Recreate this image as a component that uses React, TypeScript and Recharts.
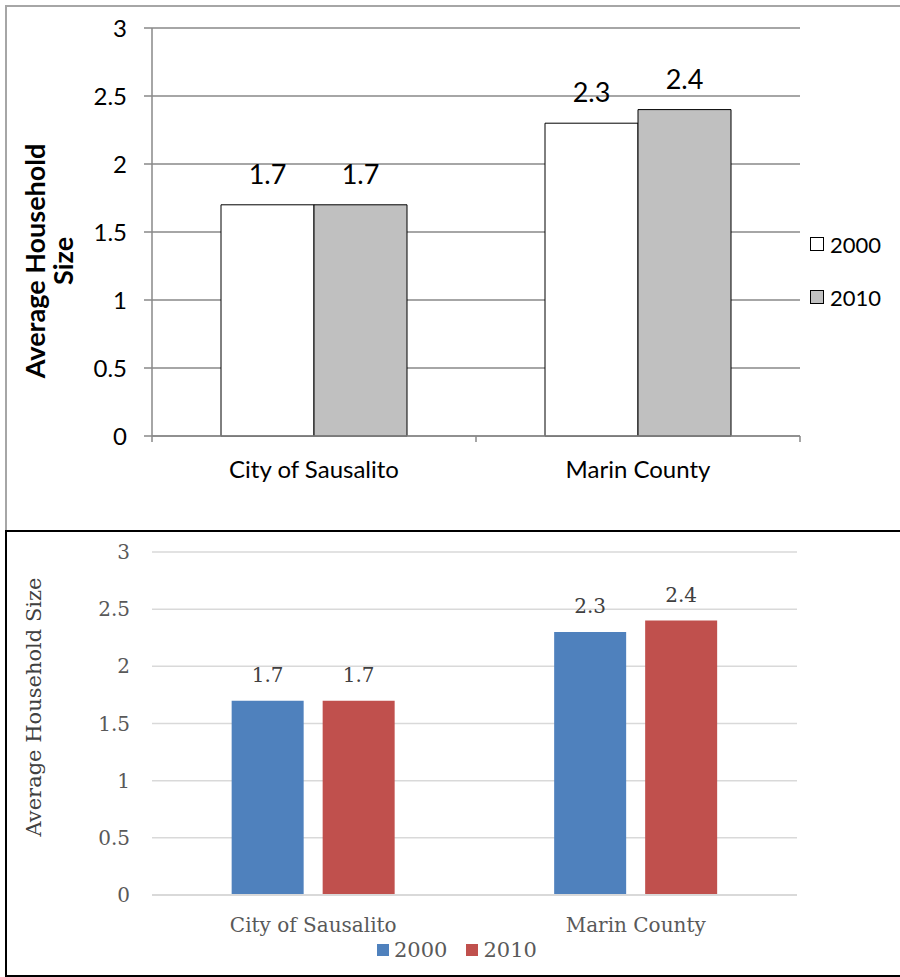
import React from 'react';
import {
  BarChart,
  Bar,
  XAxis,
  YAxis,
  CartesianGrid,
  Legend,
  LabelList,
} from 'recharts';

// Chart data
const categories = ['City of Sausalito', 'Marin County'];
const size2000 = [1.7, 2.3];
const size2010 = [1.7, 2.4];
const yTicks = [0, 0.5, 1, 1.5, 2, 2.5, 3];
const seriesNames = ['2000', '2010'];

const data = categories.map((name, i) => ({
  name,
  y2000: size2000[i],
  y2010: size2010[i],
}));

const TOP_FONT = 'Lato, "Open Sans", sans-serif';
const BOTTOM_FONT = '"DejaVu Serif", "Liberation Serif", serif';

// top chart plot width (900 - 152 left - 100 right)
const TOP_PLOT_W = 648;
const topHalfBand = TOP_PLOT_W / categories.length / 2;

const TopXTick = ({ x, y, payload, index }: any) => (
  <g>
    <line x1={x - topHalfBand} y1={y} x2={x - topHalfBand} y2={y + 6} stroke="#888" strokeWidth={1.5} />
    {index === categories.length - 1 && (
      <line x1={x + topHalfBand} y1={y} x2={x + topHalfBand} y2={y + 6} stroke="#888" strokeWidth={1.5} />
    )}
    <text x={x} y={y + 42} textAnchor="middle" fontSize={24} fontFamily={TOP_FONT} fill="#000">
      {payload.value}
    </text>
  </g>
);

const BottomXTick = ({ x, y, payload }: any) => (
  <text x={x} y={y + 37} textAnchor="middle" fontSize={20} fontFamily={BOTTOM_FONT} fill="#595959">
    {payload.value}
  </text>
);

const TopYLabel = () => (
  <text
    transform="translate(45, 261) rotate(-90)"
    textAnchor="middle"
    fontSize={27}
    fontWeight={700}
    fontFamily={TOP_FONT}
    fill="#000"
  >
    <tspan x={0} dy={0}>Average Household</tspan>
    <tspan x={0} dy={28}>Size</tspan>
  </text>
);

const BottomYLabel = () => (
  <text
    transform="translate(41, 176) rotate(-90)"
    textAnchor="middle"
    fontSize={21}
    fontFamily={BOTTOM_FONT}
    fill="#404040"
  >
    Average Household Size
  </text>
);

const TopLegend = () => (
  <div style={{ fontFamily: TOP_FONT, fontSize: 22, color: '#000' }}>
    {seriesNames.map((s, i) => (
      <div key={s} style={{ display: 'flex', alignItems: 'center', height: 26, marginBottom: i === 0 ? 27 : 0 }}>
        <span
          style={{
            display: 'inline-block',
            width: 12,
            height: 12,
            border: '1px solid #000',
            background: i === 0 ? '#fff' : '#c0c0c0',
            marginRight: 6,
          }}
        />
        {s}
      </div>
    ))}
  </div>
);

const BottomLegend = () => (
  <div style={{ fontFamily: BOTTOM_FONT, fontSize: 21, color: '#595959', display: 'flex', alignItems: 'center' }}>
    {seriesNames.map((s, i) => (
      <div key={s} style={{ display: 'flex', alignItems: 'center', marginRight: i === 0 ? 19 : 0 }}>
        <span
          style={{
            display: 'inline-block',
            width: 12,
            height: 12,
            background: i === 0 ? '#4f81bd' : '#c0504d',
            marginRight: 5,
          }}
        />
        {s}
      </div>
    ))}
  </div>
);

export default function App() {
  return (
    <div style={{ position: 'absolute', left: 0, top: 0, width: 900, height: 977, background: '#fff', overflow: 'hidden' }}>
      <div
        style={{
          position: 'absolute',
          left: 5,
          top: 5,
          width: 920,
          height: 540,
          borderLeft: '2px solid #a6a6a6',
          borderTop: '2px solid #a6a6a6',
        }}
      />
      <div style={{ position: 'absolute', left: 0, top: 0 }}>
        <BarChart
          width={900}
          height={531}
          data={data}
          margin={{ top: 28, right: 100, left: 52, bottom: 55 }}
          barCategoryGap="21.3%"
          barGap={0}
        >
          <CartesianGrid vertical={false} stroke="#888" strokeWidth={1.5} />
          <XAxis
            dataKey="name"
            height={40}
            axisLine={{ stroke: '#888', strokeWidth: 1.5 }}
            tickLine={false}
            tickSize={0}
            tickMargin={0}
            tick={<TopXTick />}
            interval={0}
          />
          <YAxis
            width={100}
            domain={[0, 3]}
            ticks={yTicks}
            axisLine={{ stroke: '#888', strokeWidth: 1.5 }}
            tickLine={{ stroke: '#888', strokeWidth: 1.5 }}
            tickSize={8}
            tickMargin={17}
            tick={{ fontSize: 24, fontFamily: TOP_FONT, fill: '#000' }}
            label={<TopYLabel />}
          />
          <Legend
            layout="horizontal"
            verticalAlign="middle"
            content={<TopLegend />}
            wrapperStyle={{ top: 231, left: 810, width: 90 }}
          />
          <Bar dataKey="y2000" name="2000" fill="#fff" stroke="#000" strokeWidth={1} isAnimationActive={false}>
            <LabelList dataKey="y2000" position="top" offset={21} fontSize={27} fontFamily={TOP_FONT} fill="#000" />
          </Bar>
          <Bar dataKey="y2010" name="2010" fill="#c0c0c0" stroke="#000" strokeWidth={1} isAnimationActive={false}>
            <LabelList dataKey="y2010" position="top" offset={21} fontSize={27} fontFamily={TOP_FONT} fill="#000" />
          </Bar>
        </BarChart>
      </div>

      <div
        style={{
          position: 'absolute',
          left: 5,
          top: 530,
          width: 920,
          height: 443,
          border: '2px solid #000',
        }}
      />
      <div style={{ position: 'absolute', left: 0, top: 531 }}>
        <BarChart
          width={900}
          height={446}
          data={data}
          margin={{ top: 21, right: 103, left: 52, bottom: 42 }}
          barCategoryGap="24.7%"
          barGap={19}
        >
          <CartesianGrid vertical={false} stroke="#d9d9d9" strokeWidth={1.5} />
          <XAxis
            dataKey="name"
            height={40}
            axisLine={{ stroke: '#d9d9d9', strokeWidth: 2 }}
            tickLine={false}
            tickSize={0}
            tickMargin={0}
            tick={<BottomXTick />}
            interval={0}
          />
          <YAxis
            width={100}
            domain={[0, 3]}
            ticks={yTicks}
            axisLine={false}
            tickLine={false}
            tickSize={0}
            tickMargin={22}
            tick={{ fontSize: 20, fontFamily: BOTTOM_FONT, fill: '#595959' }}
            label={<BottomYLabel />}
          />
          <Legend
            layout="horizontal"
            verticalAlign="middle"
            content={<BottomLegend />}
            wrapperStyle={{ top: 407, left: 377, width: 220 }}
          />
          <Bar dataKey="y2000" name="2000" fill="#4f81bd" isAnimationActive={false}>
            <LabelList dataKey="y2000" position="top" offset={19} fontSize={20} fontFamily={BOTTOM_FONT} fill="#404040" />
          </Bar>
          <Bar dataKey="y2010" name="2010" fill="#c0504d" isAnimationActive={false}>
            <LabelList dataKey="y2010" position="top" offset={19} fontSize={20} fontFamily={BOTTOM_FONT} fill="#404040" />
          </Bar>
        </BarChart>
      </div>
    </div>
  );
}
